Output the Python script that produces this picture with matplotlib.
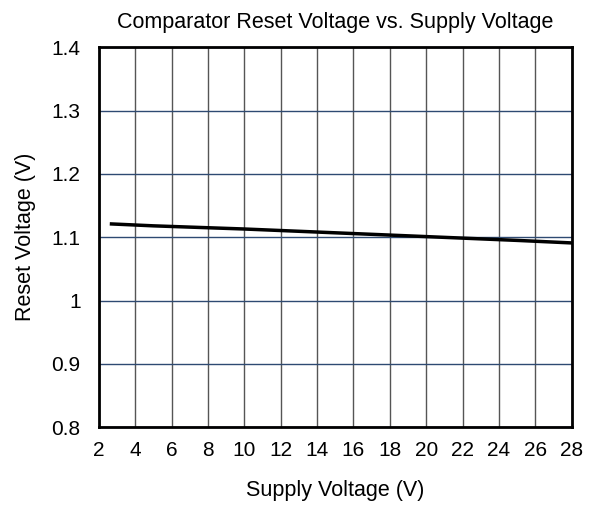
import matplotlib.pyplot as plt
import numpy as np

# supply voltage (V) and reset voltage (V)
supply_v = [2.7, 5, 10, 15, 20, 25, 28]
reset_v = [1.121, 1.118, 1.113, 1.107, 1.101, 1.095, 1.091]

xticks = list(range(2, 29, 2))
yticks = [0.8, 0.9, 1.0, 1.1, 1.2, 1.3, 1.4]
ylabels = ['0.8', '0.9', '1', '1.1', '1.2', '1.3', '1.4']

plt.rcParams['font.family'] = ['Liberation Sans', 'DejaVu Sans']

fig = plt.figure(figsize=(5.95, 5.08), dpi=100)
ax = fig.add_axes([0.166, 0.159, 0.795, 0.748])

for x in xticks:
    ax.axvline(x, color='#555555', lw=1.0, zorder=1)
for y in yticks:
    ax.axhline(y, color='#2E4A72', lw=1.0, zorder=1)

ax.plot(supply_v, reset_v, color='black', lw=2.5, zorder=3)

ax.set_xlim(2, 28)
ax.set_ylim(0.8, 1.4)
ax.set_xticks(xticks)
ax.set_yticks(yticks)
ax.set_yticklabels(ylabels)
ax.tick_params(length=0, labelsize=15)
ax.tick_params(axis='x', pad=10)
ax.tick_params(axis='y', pad=13)
for s in ax.spines.values():
    s.set_linewidth(2)
    s.set_zorder(4)

ax.set_title('Comparator Reset Voltage vs. Supply Voltage', fontsize=15.5, pad=14)
ax.set_xlabel('Supply Voltage (V)', fontsize=15.5, labelpad=14)
ax.set_ylabel('Reset Voltage (V)', fontsize=15.5, labelpad=11)

fig.savefig('out.png', dpi=100)
